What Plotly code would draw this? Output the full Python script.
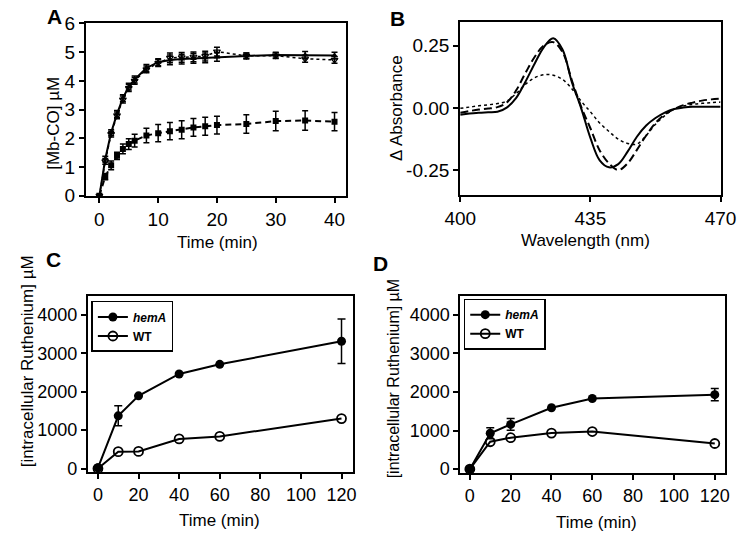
import plotly.graph_objects as go

# ---------------- Panel A data ----------------
time_a = [0, 1, 2, 3, 4, 5, 6, 8, 10, 12, 14, 16, 18, 20, 25, 30, 35, 40]
mbco_solid = [0, 1.28, 2.2, 2.85, 3.4, 3.8, 4.05, 4.45, 4.65, 4.73, 4.76, 4.78, 4.8, 4.83, 4.87, 4.9, 4.9, 4.88]
mbco_solid_err = [0, 0.1, 0.1, 0.12, 0.12, 0.12, 0.12, 0.12, 0.12, 0.17, 0.17, 0.17, 0.17, 0.15, 0.1, 0.1, 0.12, 0.12]
mbco_dotted = [0, 1.2, 2.15, 2.8, 3.35, 3.75, 4.0, 4.4, 4.62, 4.8, 4.82, 4.84, 4.86, 5.02, 4.87, 4.88, 4.77, 4.73]
mbco_dotted_err = [0, 0.1, 0.1, 0.12, 0.12, 0.12, 0.12, 0.12, 0.12, 0.17, 0.17, 0.17, 0.17, 0.15, 0.1, 0.1, 0.12, 0.12]
mbco_dashed = [0, 0.67, 1.06, 1.39, 1.63, 1.8, 1.92, 2.1, 2.18, 2.25, 2.3, 2.38, 2.42, 2.46, 2.5, 2.6, 2.62, 2.58]
mbco_dashed_err = [0, 0.11, 0.15, 0.13, 0.17, 0.19, 0.22, 0.25, 0.3, 0.3, 0.31, 0.31, 0.31, 0.31, 0.32, 0.34, 0.34, 0.32]

# ---------------- Panel B data ----------------
wavelength = [400, 402.5, 405, 407.5, 410, 412.5, 415, 417.5, 420, 422.5, 425, 427.5, 430, 432.5,
              435, 437.5, 440, 442.5, 445, 447.5, 450, 452.5, 455, 457.5, 460, 462.5, 465, 467.5, 470]
abs_solid = [-0.027, -0.022, -0.019, -0.017, -0.015, 0.002, 0.040, 0.105, 0.178, 0.245, 0.280, 0.235, 0.105, 0.000,
             -0.120, -0.210, -0.238, -0.225, -0.175, -0.115, -0.070, -0.040, -0.018, -0.004, 0.002, 0.005, 0.005, 0.005, 0.005]
abs_dashed = [-0.019, -0.012, -0.006, -0.002, 0.004, 0.022, 0.070, 0.140, 0.205, 0.252, 0.265, 0.225, 0.112, 0.006,
              -0.081, -0.170, -0.222, -0.249, -0.222, -0.168, -0.110, -0.060, -0.025, -0.004, 0.012, 0.022, 0.030, 0.035, 0.038]
abs_dotted = [-0.001, 0.004, 0.009, 0.013, 0.018, 0.028, 0.058, 0.095, 0.122, 0.134, 0.132, 0.115, 0.078, 0.028,
              -0.015, -0.060, -0.094, -0.125, -0.142, -0.145, -0.110, -0.065, -0.030, -0.005, 0.008, 0.015, 0.019, 0.022, 0.024]

# ---------------- Panel C data ----------------
time_cd = [0, 10, 20, 40, 60, 120]
ru_c_hema = [20, 1370, 1890, 2460, 2710, 3310]
ru_c_hema_err = [0, 260, 0, 0, 0, 580]
ru_c_wt = [0, 440, 445, 770, 835, 1300]

# ---------------- Panel D data ----------------
ru_d_hema = [0, 930, 1160, 1590, 1830, 1930]
ru_d_hema_err = [0, 140, 150, 0, 0, 160]
ru_d_wt = [0, 710, 815, 935, 975, 665]

FONT = "Liberation Sans, Arial, sans-serif"
BLACK = "black"

fig = go.Figure()

def err(arr, width=3):
    return dict(type="data", array=arr, visible=True, color=BLACK, thickness=1.5, width=width)

# Panel A traces
fig.add_trace(go.Scatter(x=time_a, y=mbco_dotted, mode="lines+markers", xaxis="x", yaxis="y",
                         line=dict(color=BLACK, width=1.5, dash="dot"),
                         marker=dict(symbol="triangle-down-open", size=6, color=BLACK, line=dict(width=1.2)),
                         error_y=err(mbco_dotted_err), showlegend=False))
fig.add_trace(go.Scatter(x=time_a, y=mbco_solid, mode="lines+markers", xaxis="x", yaxis="y",
                         line=dict(color=BLACK, width=2),
                         marker=dict(symbol="triangle-up", size=6, color=BLACK),
                         error_y=err(mbco_solid_err), showlegend=False))
fig.add_trace(go.Scatter(x=time_a, y=mbco_dashed, mode="lines+markers", xaxis="x", yaxis="y",
                         line=dict(color=BLACK, width=2, dash="6px,4px"),
                         marker=dict(symbol="square", size=6, color=BLACK),
                         error_y=err(mbco_dashed_err), showlegend=False))

# Panel B traces
fig.add_trace(go.Scatter(x=wavelength, y=abs_dotted, mode="lines", xaxis="x2", yaxis="y2",
                         line=dict(color=BLACK, width=1.5, dash="dot", shape="spline"), showlegend=False))
fig.add_trace(go.Scatter(x=wavelength, y=abs_dashed, mode="lines", xaxis="x2", yaxis="y2",
                         line=dict(color=BLACK, width=2, dash="8px,4px", shape="spline"), showlegend=False))
fig.add_trace(go.Scatter(x=wavelength, y=abs_solid, mode="lines", xaxis="x2", yaxis="y2",
                         line=dict(color=BLACK, width=2, shape="spline"), showlegend=False))

# Panel C traces
fig.add_trace(go.Scatter(x=time_cd, y=ru_c_hema, mode="lines+markers", xaxis="x3", yaxis="y3",
                         name="<b><i>hemA</i></b>", legend="legend",
                         line=dict(color=BLACK, width=2),
                         marker=dict(symbol="circle", size=9, color=BLACK),
                         error_y=err(ru_c_hema_err, 4)))
fig.add_trace(go.Scatter(x=time_cd, y=ru_c_wt, mode="lines+markers", xaxis="x3", yaxis="y3",
                         name="<b>WT</b>", legend="legend",
                         line=dict(color=BLACK, width=2),
                         marker=dict(symbol="circle-open", size=9, color=BLACK, line=dict(width=1.8))))

# Panel D traces
fig.add_trace(go.Scatter(x=time_cd, y=ru_d_hema, mode="lines+markers", xaxis="x4", yaxis="y4",
                         name="<b><i>hemA</i></b>", legend="legend2",
                         line=dict(color=BLACK, width=2),
                         marker=dict(symbol="circle", size=9, color=BLACK),
                         error_y=err(ru_d_hema_err, 4)))
fig.add_trace(go.Scatter(x=time_cd, y=ru_d_wt, mode="lines+markers", xaxis="x4", yaxis="y4",
                         name="<b>WT</b>", legend="legend2",
                         line=dict(color=BLACK, width=2),
                         marker=dict(symbol="circle-open", size=9, color=BLACK, line=dict(width=1.8))))

def ax(domain, rng, tickvals, ticktext=None, anchor=None, size=18):
    d = dict(domain=domain, range=rng, tickvals=tickvals, showline=True, mirror=True,
             linecolor=BLACK, linewidth=2, ticks="outside", ticklen=5, tickwidth=1.5,
             tickcolor=BLACK, showgrid=False, zeroline=False,
             tickfont=dict(family=FONT, size=size, color=BLACK), anchor=anchor)
    if ticktext is not None:
        d["ticktext"] = ticktext
    return d

fig.update_layout(
    width=750, height=542,
    margin=dict(l=0, r=0, t=0, b=0),
    paper_bgcolor="white", plot_bgcolor="white",
    font=dict(family=FONT, color=BLACK),
    xaxis=ax([0.0973, 0.46], [-2.3, 42], [0, 10, 20, 30, 40], anchor="y", size=19),
    yaxis=ax([0.6434, 0.9742], [0, 6], [0, 1, 2, 3, 4, 5, 6], anchor="x", size=19),
    xaxis2=ax([0.6187, 0.9813], [400, 470], [400, 435, 470], anchor="y2", size=19),
    yaxis2=ax([0.6445, 0.9766], [-0.35, 0.345], [-0.25, 0, 0.25], ["-0.25", "0.00", "0.25"], anchor="x2", size=19),
    xaxis3=ax([0.1, 0.4689], [-5, 125.5], [0, 20, 40, 60, 80, 100, 120], anchor="y3"),
    yaxis3=ax([0.1125, 0.452], [-100, 4500], [0, 1000, 2000, 3000, 4000], anchor="x3"),
    xaxis4=ax([0.619, 0.988], [-4.6, 125.2], [0, 20, 40, 60, 80, 100, 120], anchor="y4"),
    yaxis4=ax([0.1113, 0.452], [-100, 4500], [0, 1000, 2000, 3000, 4000], anchor="x4"),
    legend=dict(x=0.105, y=0.4415, xanchor="left", yanchor="top", bordercolor=BLACK, borderwidth=1.5,
                bgcolor="white", font=dict(family=FONT, size=12, color=BLACK), tracegroupgap=0,
                itemwidth=30),
    legend2=dict(x=0.6236, y=0.446, xanchor="left", yanchor="top", bordercolor=BLACK, borderwidth=1.5,
                 bgcolor="white", font=dict(family=FONT, size=12, color=BLACK), tracegroupgap=0,
                 itemwidth=30),
)

annots = [
    # panel labels
    dict(text="<b>A</b>", x=40 / 750, y=1 - 7 / 542, size=21),
    dict(text="<b>B</b>", x=399 / 750, y=1 - 9 / 542, size=21),
    dict(text="<b>C</b>", x=39 / 750, y=1 - 260 / 542, size=21),
    dict(text="<b>D</b>", x=381 / 750, y=1 - 264 / 542, size=21),
    # x titles
    dict(text="Time (min)", x=211 / 750, y=1 - 242 / 542, size=17),
    dict(text="Wavelength (nm)", x=595 / 750, y=1 - 240 / 542, size=17),
    dict(text="Time (min)", x=213 / 750, y=1 - 531 / 542, size=17),
    dict(text="Time (min)", x=606 / 750, y=1 - 533 / 542, size=17),
    # y titles
    dict(text="[Mb-CO] µM", x=39 / 750, y=1 - 118 / 542, size=17, angle=-90),
    dict(text="Δ Absorbance", x=397 / 750, y=1 - 102 / 542, size=17, angle=-90),
    dict(text="[intracellular Ruthenium] µM", x=12 / 750, y=1 - 365 / 542, size=17, angle=-90),
    dict(text="[intracellular Ruthenium] µM", x=394 / 750, y=1 - 383 / 542, size=16, angle=-90),
]
for a in annots:
    fig.add_annotation(text=a["text"], x=a["x"], y=a["y"], xref="paper", yref="paper",
                       xanchor="center", yanchor="middle", showarrow=False,
                       textangle=a.get("angle", 0),
                       font=dict(family=FONT, size=a["size"], color=BLACK))

fig.write_html("out.html", config={"displayModeBar": False},
               post_script="document.body.style.margin='0px';document.body.style.overflow='hidden';")
